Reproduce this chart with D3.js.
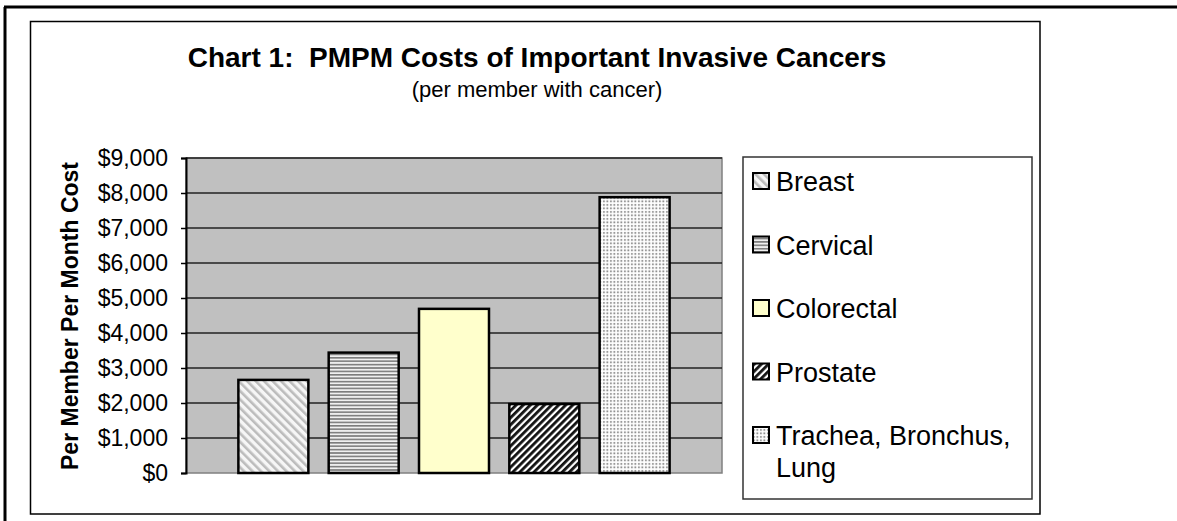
<!DOCTYPE html>
<html>
<head>
<meta charset="utf-8">
<script src="https://cdn.jsdelivr.net/npm/d3@7"></script>
<style>
  body { margin: 0; background: #fff; }
  text { font-family: Arial, "Liberation Sans", sans-serif; }
</style>
</head>
<body>
<svg id="chart" width="1177" height="521"></svg>
<script>
// data
var series = ["Breast", "Cervical", "Colorectal", "Prostate", "Trachea, Bronchus, Lung"];
var values = [2660, 3440, 4690, 1970, 7880];
var legendLines = [["Breast"], ["Cervical"], ["Colorectal"], ["Prostate"], ["Trachea, Bronchus,", "Lung"]];
var yTicks = [0, 1000, 2000, 3000, 4000, 5000, 6000, 7000, 8000, 9000];
var fills = ["url(#pBreast)", "url(#pCervical)", "#FFFFCC", "url(#pProstate)", "url(#pLung)"];

var svg = d3.select("#chart");

// patterns
var defs = svg.append("defs");

var p1 = defs.append("pattern").attr("id", "pBreast")
  .attr("patternUnits", "userSpaceOnUse").attr("width", 6).attr("height", 6)
  .attr("patternTransform", "rotate(-45)");
p1.append("rect").attr("width", 6).attr("height", 6).attr("fill", "#f6f6f6");
p1.append("rect").attr("width", 2.6).attr("height", 6).attr("fill", "#bcbcbc");

var p2 = defs.append("pattern").attr("id", "pCervical")
  .attr("patternUnits", "userSpaceOnUse").attr("width", 6).attr("height", 3.4);
p2.append("rect").attr("width", 6).attr("height", 3.4).attr("fill", "#f0f0f0");
p2.append("rect").attr("width", 6).attr("height", 1.6).attr("fill", "#7c7c7c");

var p3 = defs.append("pattern").attr("id", "pProstate")
  .attr("patternUnits", "userSpaceOnUse").attr("width", 5).attr("height", 5)
  .attr("patternTransform", "rotate(45)");
p3.append("rect").attr("width", 5).attr("height", 5).attr("fill", "#ffffff");
p3.append("rect").attr("width", 2.8).attr("height", 5).attr("fill", "#111");

var p4 = defs.append("pattern").attr("id", "pLung")
  .attr("patternUnits", "userSpaceOnUse").attr("width", 3.5).attr("height", 3.5);
p4.append("rect").attr("width", 3.5).attr("height", 3.5).attr("fill", "#ffffff");
p4.append("rect").attr("x", 1).attr("y", 1).attr("width", 1.8).attr("height", 1.8).attr("fill", "#8a8a8a");

// page frame
svg.append("line").attr("x1", 4).attr("y1", 7).attr("x2", 1177).attr("y2", 7)
  .attr("stroke", "black").attr("stroke-width", 3);
svg.append("line").attr("x1", 5).attr("y1", 7).attr("x2", 5).attr("y2", 521)
  .attr("stroke", "black").attr("stroke-width", 3);

// chart box
svg.append("rect").attr("x", 30.5).attr("y", 21.5).attr("width", 1009.5).attr("height", 492.5)
  .attr("fill", "white").attr("stroke", "black").attr("stroke-width", 1.5);

// title
svg.append("text").attr("x", 537).attr("y", 67).attr("text-anchor", "middle")
  .attr("font-size", 28).attr("font-weight", "bold")
  .attr("xml:space", "preserve")
  .text("Chart 1:  PMPM Costs of Important Invasive Cancers");
svg.append("text").attr("x", 537).attr("y", 97).attr("text-anchor", "middle")
  .attr("font-size", 22).text("(per member with cancer)");

// plot area
var plotL = 186, plotR = 722, plotT = 158, plotB = 473;

var x = d3.scaleBand().domain(series).range([plotL, plotR]).paddingInner(0.225).paddingOuter(0.58);
var y = d3.scaleLinear().domain([0, 9000]).range([plotB, plotT]);

svg.append("rect").attr("x", plotL).attr("y", plotT).attr("width", plotR - plotL).attr("height", plotB - plotT)
  .attr("fill", "#C0C0C0").attr("stroke", "#808080").attr("stroke-width", 1.5);

svg.append("g").selectAll("line").data(yTicks.slice(1)).join("line")
  .attr("x1", plotL).attr("x2", plotR)
  .attr("y1", d => y(d)).attr("y2", d => y(d))
  .attr("stroke", "#222").attr("stroke-width", 1.5);

var yAxis = svg.append("g").attr("transform", "translate(" + plotL + ",0)")
  .call(d3.axisLeft(y).tickValues(yTicks).tickSize(5).tickPadding(13)
    .tickFormat(d => "$" + d3.format(",")(d)));
yAxis.select(".domain").attr("stroke", "black").attr("stroke-width", 2);
yAxis.selectAll(".tick line").attr("stroke", "black").attr("stroke-width", 1.5);
yAxis.selectAll(".tick text").attr("font-size", 23).attr("fill", "black")
  .attr("font-family", "Arial, 'Liberation Sans', sans-serif");

// bars
svg.append("g").selectAll("rect").data(values).join("rect")
  .attr("x", (d, i) => x(series[i]))
  .attr("y", d => y(d))
  .attr("width", x.bandwidth())
  .attr("height", d => plotB - y(d))
  .attr("fill", (d, i) => fills[i])
  .attr("stroke", "black").attr("stroke-width", 2.5);

// y axis title
svg.append("text").attr("transform", "translate(78,316) rotate(-90)")
  .attr("text-anchor", "middle").attr("font-size", 23).attr("font-weight", "bold")
  .text("Per Member Per Month Cost");

// legend
svg.append("rect").attr("x", 743).attr("y", 157).attr("width", 289).attr("height", 342)
  .attr("fill", "white").attr("stroke", "#333").attr("stroke-width", 1.5);

var legendY = d3.scalePoint().domain(series).range([181, 435]);

var items = svg.append("g").selectAll("g").data(series).join("g")
  .attr("transform", d => "translate(752," + legendY(d) + ")");
items.append("rect").attr("x", 1).attr("y", -8).attr("width", 16).attr("height", 16)
  .attr("fill", (d, i) => fills[i]).attr("stroke", "black").attr("stroke-width", 2);
items.append("text").attr("x", 24).attr("y", 10).attr("font-size", 27)
  .selectAll("tspan").data((d, i) => legendLines[i]).join("tspan")
  .attr("x", 24).attr("dy", (d, j) => j === 0 ? 0 : 32).text(d => d);
</script>
</body>
</html>
